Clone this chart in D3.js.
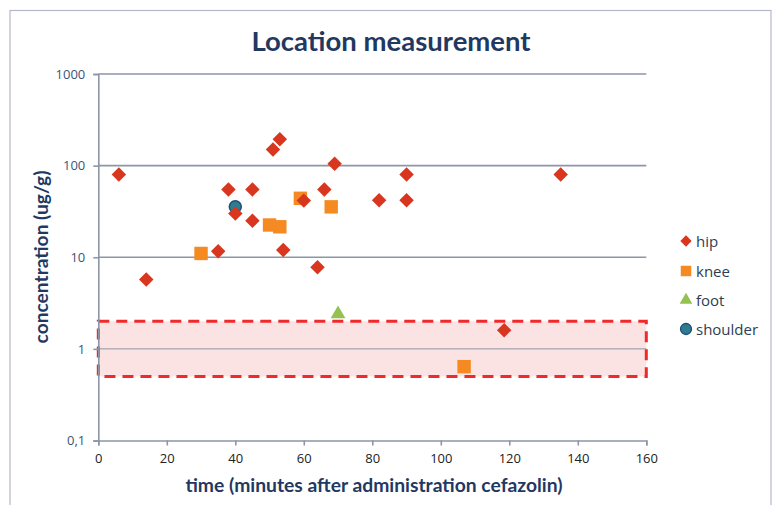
<!DOCTYPE html>
<html>
<head>
<meta charset="utf-8">
<script src="https://cdn.jsdelivr.net/npm/d3@7"></script>
<style>
  html, body { margin: 0; padding: 0; background: #fff; }
  svg { display: block; font-family: Lato, "Open Sans", sans-serif; }
</style>
</head>
<body>
<svg id="chart" width="775" height="505"></svg>
<script>
// Cefazolin concentration by sampling location
const hipTime = [6, 14, 38, 45, 40, 45, 35, 51, 53, 54, 60, 64, 66, 69, 82, 90, 90, 118.5, 135];
const hipConc = [80, 5.7, 55, 55, 30, 25, 11.6, 150, 194, 12, 41.5, 7.8, 55, 105, 42, 80, 42, 1.6, 80];
const kneeTime = [30, 50, 53, 59, 68, 106.8];
const kneeConc = [11, 22.5, 21.5, 44, 35.5, 0.64];
const footTime = [70];
const footConc = [2.4];
const shoulderTime = [40];
const shoulderConc = [35.5];

const xTicks = [0, 20, 40, 60, 80, 100, 120, 140, 160];
const yTicks = [0.1, 1, 10, 100, 1000];
const yTickLabels = ["0,1", "1", "10", "100", "1000"];
const bandRange = [0.5, 2];

const seriesNames = ["hip", "knee", "foot", "shoulder"];
const seriesColors = ["#D8361F", "#F68A22", "#94C152", "#2E7C8E"];

const svg = d3.select("#chart");
const navy = "#1F3962";
const gridColor = "#8D95A6";

// outer chart frame
svg.append("rect")
  .attr("x", 10).attr("y", 10.5).attr("width", 761).attr("height", 505)
  .attr("fill", "#fff").attr("stroke", "#B4B8C8").attr("stroke-width", 1.2);

const x = d3.scaleLinear().domain([0, 160]).range([98.3, 646.3]);
const y = d3.scaleLog().domain([0.1, 1000]).range([440.5, 74]);

// highlighted band
svg.append("rect")
  .attr("x", x(0)).attr("y", y(bandRange[1]))
  .attr("width", x(160) - x(0)).attr("height", y(bandRange[0]) - y(bandRange[1]))
  .attr("fill", "#FCE3E3");

// horizontal gridlines
svg.append("g").selectAll("line")
  .data(yTicks.slice(1))
  .join("line")
  .attr("x1", x(0)).attr("x2", x(160))
  .attr("y1", d => y(d)).attr("y2", d => y(d))
  .attr("stroke", gridColor).attr("stroke-width", d => d === 1 ? 1 : 1.6);

// band outline
svg.append("rect")
  .attr("x", x(0)).attr("y", y(bandRange[1]))
  .attr("width", x(160) - x(0)).attr("height", y(bandRange[0]) - y(bandRange[1]))
  .attr("fill", "none").attr("stroke", "#F02A2A").attr("stroke-width", 3)
  .attr("stroke-dasharray", "11,7");

// axes
const yAxis = d3.axisLeft(y).tickValues(yTicks)
  .tickFormat((d, i) => yTickLabels[i]).tickSize(5).tickPadding(8);
const gy = svg.append("g").attr("transform", `translate(${x(0)},0)`).call(yAxis);
gy.select(".domain").attr("stroke", gridColor).attr("stroke-width", 1.6);
gy.selectAll(".tick line").attr("stroke", gridColor).attr("stroke-width", 1.6);
gy.selectAll(".tick text").attr("fill", "#3B5479")
  .style("font-size", "13px").style("font-family", "'Open Sans', sans-serif");

const xAxis = d3.axisBottom(x).tickValues(xTicks).tickSize(5).tickPadding(8);
const gx = svg.append("g").attr("transform", `translate(0,${y(0.1)})`).call(xAxis);
gx.select(".domain").attr("stroke", gridColor).attr("stroke-width", 1.6);
gx.selectAll(".tick line").attr("stroke", gridColor).attr("stroke-width", 1.6);
gx.selectAll(".tick text").attr("fill", "#222")
  .style("font-size", "13px").style("font-family", "'Open Sans', sans-serif");

// markers
const diamond = d3.symbol().type(d3.symbolSquare).size(105)();
const square = d3.symbol().type(d3.symbolSquare).size(180)();
const tri = d3.symbol().type(d3.symbolTriangle).size(95)();

function plot(times, concs, path, color, rotate, stroke) {
  svg.append("g").selectAll("path")
    .data(times.map((t, i) => [t, concs[i]]))
    .join("path")
    .attr("d", path)
    .attr("transform", d => `translate(${x(d[0])},${y(d[1])})${rotate ? " rotate(45)" : ""}`)
    .attr("fill", color)
    .attr("stroke", stroke || "none").attr("stroke-width", 1.5);
}
plot(kneeTime, kneeConc, square, seriesColors[1], false);
plot(footTime, footConc, tri, seriesColors[2], false);
svg.append("g").selectAll("circle")
  .data(shoulderTime.map((t, i) => [t, shoulderConc[i]]))
  .join("circle")
  .attr("cx", d => x(d[0])).attr("cy", d => y(d[1])).attr("r", 6)
  .attr("fill", seriesColors[3]).attr("stroke", "#1F4F7A").attr("stroke-width", 1.5);
plot(hipTime, hipConc, diamond, seriesColors[0], true);

// titles
svg.append("text").attr("x", 391).attr("y", 51).attr("text-anchor", "middle")
  .attr("fill", navy).style("font-size", "27.5px").style("font-weight", "bold")
  .text("Location measurement");

svg.append("text").attr("x", 374).attr("y", 492).attr("text-anchor", "middle")
  .attr("fill", navy).style("font-size", "19.3px").style("font-weight", "bold")
  .text("time (minutes after administration cefazolin)");

svg.append("text").attr("transform", "translate(48,257) rotate(-90)")
  .attr("text-anchor", "middle")
  .attr("fill", navy).style("font-size", "19.2px").style("font-weight", "bold")
  .text("concentration (ug/g)");

// legend
const legendY = [241, 271, 300, 329];
const legendShapes = [
  {path: d3.symbol().type(d3.symbolSquare).size(64)(), rot: true},
  {path: d3.symbol().type(d3.symbolSquare).size(110)(), rot: false},
  {path: d3.symbol().type(d3.symbolTriangle).size(70)(), rot: false},
  null
];
const lg = svg.append("g");
seriesNames.forEach((name, i) => {
  const cx = 686, cy = legendY[i];
  if (legendShapes[i]) {
    lg.append("path").attr("d", legendShapes[i].path)
      .attr("transform", `translate(${cx},${cy})${legendShapes[i].rot ? " rotate(45)" : ""}`)
      .attr("fill", seriesColors[i]);
  } else {
    lg.append("circle").attr("cx", cx).attr("cy", cy).attr("r", 5.5)
      .attr("fill", seriesColors[3]).attr("stroke", "#1F4F7A").attr("stroke-width", 1.3);
  }
  lg.append("text").attr("x", 696).attr("y", cy + 5.5)
    .attr("fill", "#2E3D52").style("font-size", "15px")
    .style("font-family", "'Open Sans', sans-serif")
    .text(name);
});
</script>
</body>
</html>
